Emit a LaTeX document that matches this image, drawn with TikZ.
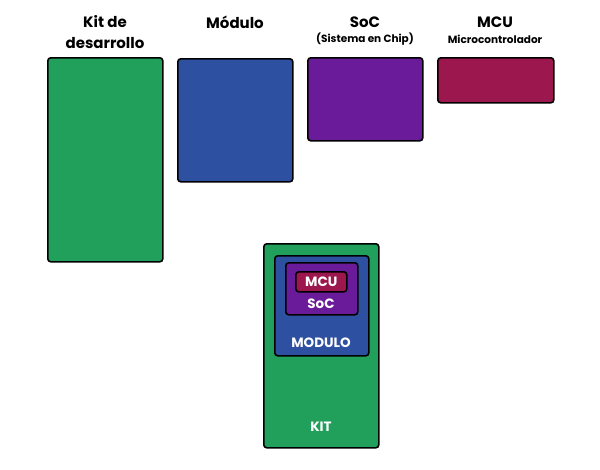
\documentclass[tikz,border=0pt]{standalone}
\usepackage{fontspec}
\setmainfont{Poppins}
\definecolor{kitgreen}{HTML}{21A05C}
\definecolor{modblue}{HTML}{2E50A0}
\definecolor{socpurple}{HTML}{6A1B9A}
\definecolor{mcured}{HTML}{9C174D}
\begin{document}
\begin{tikzpicture}[x=1pt,y=-1pt,
  block/.style={draw=black,line width=1.6pt,rounded corners=3pt,inner sep=0pt,anchor=north west},
  title/.style={font=\bfseries\fontsize{15}{17}\selectfont,align=center,inner sep=0pt},
  sub/.style={font=\bfseries\fontsize{10.5}{12}\selectfont,inner sep=0pt},
  inlabel/.style={font=\bfseries\fontsize{13.5}{15}\selectfont,text=white,inner sep=0pt}]
\useasboundingbox (0,0) rectangle (600,469);
% top row
\node[block,fill=kitgreen,minimum width=115pt,minimum height=204pt] (kitbox) at (47,57) {};
\node[block,fill=modblue,minimum width=115pt,minimum height=123pt] (modbox) at (177,58) {};
\node[block,fill=socpurple,minimum width=115pt,minimum height=83pt] (socbox) at (307,57) {};
\node[block,fill=mcured,minimum width=116pt,minimum height=45pt] (mcubox) at (437,57) {};
\node[title] (kitt1) at (105,22) {Kit de};
\node[title] (kitt2) at (105,43) {desarrollo};
\node[title] (modt) at (235,22) {Módulo};
\node[title] (soct) at (365,22) {SoC};
\node[sub] (socs) at (365,39) {(Sistema en Chip)};
\node[title] (mcut) at (495,22) {MCU};
\node[sub] (mcus) at (495,39) {Microcontrolador};
% nested
\node[block,fill=kitgreen,minimum width=115pt,minimum height=204pt] (kit) at (263,243) {};
\node[block,fill=modblue,minimum width=94pt,minimum height=100pt] (mod) at (274,255) {};
\node[block,fill=socpurple,minimum width=72pt,minimum height=52pt] (soc) at (285,262) {};
\node[block,fill=mcured,minimum width=51pt,minimum height=20pt] (mcu) at (295,271) {};
\node[inlabel] (mcul) at (mcu.center) {MCU};
\node[inlabel] (socl) at (321,304) {SoC};
\node[inlabel] (modl) at (321,343) {MODULO};
\node[inlabel] (kitl) at (321,427) {KIT};
\end{tikzpicture}
\end{document}
